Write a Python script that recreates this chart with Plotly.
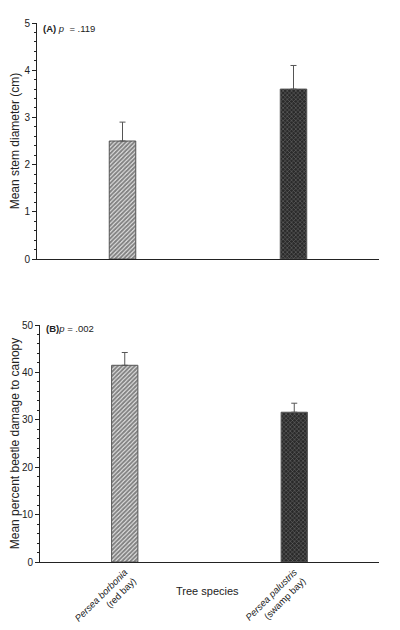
import plotly.graph_objects as go

# species on the x axis
species_ticks = ["<i>Persea borbonia</i><br>(red bay)", "<i>Persea palustris</i><br>(swamp bay)"]

# panel A: stem diameter
diam_mean = [2.5, 3.6]
diam_se = [0.4, 0.5]

# panel B: canopy damage
damage_mean = [41.5, 31.6]
damage_se = [2.7, 1.9]

xpos = [0, 1]

font = "Liberation Sans, Arial, sans-serif"
err_col = "#555555"

# page body adds an 8px margin, so the figure is sized to what is left
W, H = 392, 622
OFF = 8


def px_x(p):
    return (p - OFF) / W


def px_y(p):
    return 1 - (p - OFF) / H


fig = go.Figure()

patterns = [
    dict(shape="/", fgcolor="#111111", bgcolor="#f4f4f4", size=3, solidity=0.7),
    dict(shape="x", fgcolor="#bbbbbb", bgcolor="#2a2a2a", size=3, solidity=0.3),
]

for i in range(2):
    fig.add_trace(go.Bar(
        x=[xpos[i]], y=[diam_mean[i]],
        width=0.155,
        marker=dict(color="#333333", pattern=patterns[i],
                    line=dict(color="#555555", width=1)),
        error_y=dict(type="data", array=[diam_se[i]], arrayminus=[0],
                     color=err_col, thickness=1, width=3),
        xaxis="x", yaxis="y", showlegend=False,
    ))
    fig.add_trace(go.Bar(
        x=[xpos[i]], y=[damage_mean[i]],
        width=0.155,
        marker=dict(color="#333333", pattern=patterns[i],
                    line=dict(color="#555555", width=1)),
        error_y=dict(type="data", array=[damage_se[i]], arrayminus=[0],
                     color=err_col, thickness=1, width=3),
        xaxis="x2", yaxis="y2", showlegend=False,
    ))

yax_common = dict(
    showline=True, linecolor="#222222", linewidth=1,
    ticks="outside", ticklen=4, tickcolor="#222222",
    showgrid=False, zeroline=False, automargin=False,
    tickfont=dict(size=10, color="#222222"),
    title_font=dict(size=12, color="#222222"),
)

fig.update_layout(
    width=W, height=H,
    margin=dict(l=0, r=0, t=0, b=0, autoexpand=False),
    plot_bgcolor="white", paper_bgcolor="white",
    font=dict(family=font, color="#222222"),
    barmode="overlay",
    xaxis=dict(domain=[px_x(37), px_x(379)], range=[-0.5, 1.5],
               showline=True, linecolor="#222222", linewidth=1,
               showticklabels=False, ticks="", showgrid=False,
               zeroline=False, anchor="y", automargin=False),
    yaxis=dict(domain=[px_y(259), px_y(23)], range=[0, 5], dtick=1,
               minor=dict(dtick=0.2, ticks="outside", ticklen=2, tickcolor="#222222"),
               title=dict(text="Mean stem diameter (cm)", standoff=10),
               anchor="x", **yax_common),
    xaxis2=dict(domain=[px_x(40), px_x(379)], range=[-0.5, 1.5],
                showline=True, linecolor="#222222", linewidth=1,
                tickvals=xpos, ticktext=species_ticks, tickangle=-45,
                tickfont=dict(size=9.5), ticks="", showgrid=False,
                zeroline=False, anchor="y2", automargin=False),
    yaxis2=dict(domain=[px_y(562), px_y(325)], range=[0, 50], dtick=10,
                minor=dict(dtick=2, ticks="outside", ticklen=2, tickcolor="#222222"),
                title=dict(text="Mean percent beetle damage to canopy", standoff=6),
                anchor="x2", **yax_common),
)

fig.add_annotation(text="<b>(A)</b> <i>p</i>  = .119", xref="paper", yref="paper",
                   x=px_x(41), y=px_y(29), xanchor="left", yanchor="middle",
                   showarrow=False, font=dict(size=9.5))
fig.add_annotation(text="<b>(B)</b><i>p</i> = .002", xref="paper", yref="paper",
                   x=px_x(44), y=px_y(328), xanchor="left", yanchor="middle",
                   showarrow=False, font=dict(size=9.5))
fig.add_annotation(text="Tree species", xref="paper", yref="paper",
                   x=px_x(207), y=px_y(591), xanchor="center", yanchor="middle",
                   showarrow=False, font=dict(size=11))

fig.write_html("out.html")
